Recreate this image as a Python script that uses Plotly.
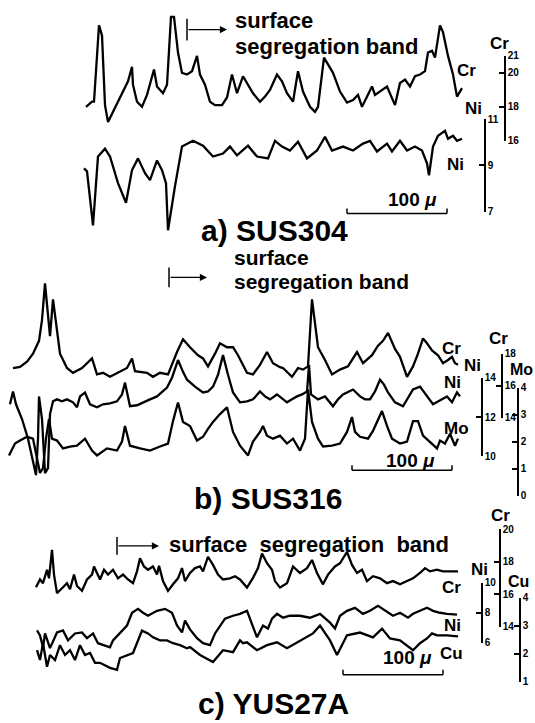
import plotly.graph_objects as go

W, H = 535, 723

# ---------------- data: (position along scan in µm, concentration in wt%) ----------------
SUS304_CR = [(86,18.0),(92,18.3),(94,18.3),(99,22.8),(102,22.2),(105,18.1),(108,17.1),(113,17.7),(120,18.55),(123,19.0),
             (128,19.5),(132,20.35),(133,19.3),(137,18.3),(142,18.0),(147,18.7),(150,19.3),(154,20.2),(157,19.2),(163,18.8),
             (167,19.3),(171,23.3),(174,23.3),(178,21.2),(182,20.0),(187,19.9),(192,20.1),(197,21.0),(200,19.9),(205,19.3),
             (210,18.3),(215,18.1),(222,18.1),(227,18.55),(232,19.9),(237,18.8),(243,19.8),(248,19.3),(253,18.8),(260,18.3),
             (265,18.6),(270,19.0),(277,19.9),(282,19.5),(287,18.8),(293,18.3),(298,20.1),(303,18.9),(310,18.0),(315,17.7),
             (318,18.0),(324,20.9),(328,20.5),(333,20.0),(340,18.9),(347,18.25),(353,18.4),(358,18.7),(362,18.0),(368,18.7),
             (372,19.2),(375,18.7),(380,18.9),(387,19.2),(395,18.1),(400,19.4),(405,19.6),(410,19.2),(415,19.8),(420,19.9),
             (425,20.1),(428,21.2),(432,21.3),(435,20.9),(440,22.8),(443,22.4),(448,21.0),(453,19.9),(457,18.6),(460,18.9),
             (462,19.1)]
SUS304_NI = [(84,8.87),(87,8.74),(93,6.4),(98,9.38),(105,9.72),(110,9.38),(118,8.23),(126,7.38),(132,8.79),(138,9.3),
             (145,8.66),(150,8.36),(157,9.21),(162,8.79),(166,8.23),(168,6.19),(175,8.1),(182,9.81),(193,10.06),(203,9.85),
             (213,9.38),(223,9.51),(230,9.81),(237,9.43),(248,9.85),(257,9.38),(268,9.3),(275,10.06),(282,9.81),(290,9.64),
             (298,10.02),(307,9.3),(317,9.64),(320,9.85),(325,10.23),(332,9.64),(343,9.81),(353,9.64),(363,9.94),(370,10.06),
             (377,9.6),(387,9.94),(392,9.6),(400,10.06),(407,9.64),(415,9.81),(422,9.64),(427,9.09),(429,8.57),(433,9.81),
             (438,10.28),(445,10.49),(448,10.15),(453,10.28),(457,10.06),(462,10.15)]

SUS316_CR = [(13,17.1),(20,17.17),(27,17.5),(33,18.0),(39,18.8),(42,20.1),(45,22.4),(50,19.1),(53,21.4),(57,19.6),
             (60,18.0),(67,17.1),(73,16.8),(82,17.1),(92,17.7),(97,16.7),(103,16.8),(110,16.55),(120,16.9),(127,17.1),
             (132,17.7),(135,16.9),(147,16.8),(153,16.55),(160,16.8),(168,16.7),(177,18.1),(183,18.9),(190,18.4),(198,17.9),
             (203,17.7),(208,17.2),(215,18.0),(220,18.65),(227,18.4),(233,18.4),(238,17.9),(247,16.8),(253,16.7),(260,17.3),
             (267,18.1),(273,17.4),(280,17.15),(283,17.1),(292,16.55),(298,17.1),(303,17.0),(308,17.2),(312,21.4),(315,19.75),
             (318,18.4),(325,17.6),(332,16.7),(340,17.0),(348,17.2),(357,18.1),(363,17.4),(372,17.9),(378,18.5),(383,18.8),
             (388,19.3),(395,18.3),(400,17.8),(407,16.55),(413,17.2),(418,18.0),(423,18.95),(427,18.65),(432,18.2),(438,17.9),
             (443,17.4),(448,17.6),(452,17.8),(455,17.4),(458,17.3)]
SUS316_NI = [(10,12.65),(13,13.3),(16,12.65),(22,11.9),(28,10.9),(33,9.8),(36,9.05),(38,10.9),(39,13.05),(42,11.9),
             (45,9.15),(48,9.4),(50,12.15),(53,12.8),(57,12.9),(62,12.8),(67,12.9),(73,12.75),(77,12.5),(80,13.05),
             (85,13.25),(90,12.65),(97,12.5),(103,12.65),(110,12.7),(117,12.8),(122,13.15),(125,13.75),(130,12.55),(137,12.6),
             (143,12.75),(150,12.9),(157,13.05),(163,13.3),(167,13.5),(172,14.0),(178,14.9),(183,14.3),(187,13.9),(195,13.55),
             (203,13.25),(208,13.3),(213,13.55),(218,14.15),(223,15.15),(228,14.15),(233,13.25),(240,12.75),(247,12.8),(253,12.9),
             (260,13.3),(265,13.05),(270,12.9),(277,13.15),(283,12.9),(287,12.75),(292,12.9),(297,13.05),(302,13.15),(307,13.3),
             (309,14.65),(311,13.15),(318,12.9),(325,13.05),(333,12.55),(338,12.9),(343,13.15),(353,13.4),(360,13.05),(365,12.9),
             (370,12.9),(375,13.3),(380,13.9),(384,13.65),(388,13.25),(395,12.75),(403,12.55),(408,13.0),(413,13.4),(420,13.55),
             (427,13.05),(433,12.65),(442,12.9),(447,13.05),(452,12.75),(457,13.25),(460,13.05)]
SUS316_MO = [(9,1.49),(15,1.93),(20,2.04),(27,2.18),(33,2.11),(37,1.38),(40,0.84),(43,1.02),(46,2.11),(49,2.84),
             (52,2.11),(57,2.04),(63,1.75),(70,1.82),(77,1.85),(85,2.11),(92,1.67),(97,1.49),(107,1.75),(117,1.67),
             (122,2.0),(125,2.58),(130,1.85),(140,1.75),(150,1.67),(160,1.82),(168,1.93),(173,2.76),(178,3.45),(183,2.73),
             (190,2.58),(197,2.04),(203,2.18),(208,2.47),(213,2.73),(220,3.02),(227,3.27),(233,2.36),(240,1.85),(248,1.49),
             (253,2.0),(260,2.36),(263,2.58),(267,2.22),(273,2.11),(280,2.22),(287,1.93),(293,2.11),(300,1.67),(305,2.11),
             (308,3.93),(312,2.73),(318,2.11),(323,1.82),(332,1.85),(340,1.93),(347,2.36),(352,2.91),(355,2.36),(360,2.18),
             (368,2.11),(373,2.4),(382,3.13),(387,2.58),(392,2.11),(400,1.93),(407,2.0),(413,2.76),(418,2.76),(423,2.22),
             (430,2.0),(437,1.75),(440,2.04),(445,1.93),(450,2.29),(455,1.85),(458,2.11)]

YUS27A_CR = [(36,16.42),(40,16.9),(43,16.67),(47,17.5),(49,16.97),(52,18.73),(54,17.2),(57,16.06),(62,16.36),(67,16.67),
             (70,16.3),(74,17.2),(77,16.5),(82,16.2),(87,16.9),(92,17.2),(94,17.7),(100,16.9),(104,17.5),(108,17.2),
             (113,17.5),(118,16.97),(123,17.2),(128,16.9),(133,16.67),(137,17.4),(140,18.2),(144,17.7),(148,17.5),(153,17.7),
             (157,17.2),(159,17.75),(163,16.8),(168,16.2),(173,16.6),(178,16.97),(182,17.6),(185,16.8),(190,17.3),(195,17.6),
             (200,17.7),(203,17.4),(208,18.3),(213,17.8),(218,17.2),(223,16.9),(230,16.97),(235,17.1),(240,16.9),(247,16.4),
             (253,17.0),(258,17.6),(262,18.5),(267,17.9),(272,17.5),(275,16.8),(280,16.4),(287,16.67),(293,17.7),(300,17.3),
             (307,17.6),(312,18.1),(317,17.3),(323,16.6),(328,17.2),(335,17.7),(340,17.9),(347,18.6),(352,17.8),(357,17.3),
             (362,17.5),(367,16.8),(373,17.1),(380,16.97),(387,16.67),(393,16.8),(400,16.6),(407,16.8),(413,16.97),(420,17.3),
             (425,17.6),(430,17.4),(437,17.5),(443,17.4),(450,17.4),(458,17.4)]
YUS27A_NI = [(37,6.82),(40,6.49),(43,5.7),(45,6.62),(50,5.64),(57,6.69),(63,6.82),(68,6.16),(75,6.62),(82,6.69),
             (87,6.3),(93,6.62),(98,5.97),(103,5.84),(110,5.7),(113,6.16),(120,6.69),(127,7.15),(132,8.0),(138,8.26),
             (143,8.0),(148,7.8),(157,8.13),(165,8.26),(172,8.0),(177,7.15),(182,6.69),(185,7.48),(190,6.89),(197,6.3),
             (203,5.97),(210,5.84),(215,6.62),(220,7.15),(225,7.61),(233,7.8),(240,7.93),(247,8.13),(252,7.28),(257,6.36),
             (263,7.15),(268,6.95),(272,7.61),(277,7.93),(283,7.67),(290,7.8),(300,7.8),(310,7.67),(320,7.93),(330,7.34),
             (335,6.95),(340,7.8),(347,8.13),(355,8.33),(363,7.93),(370,8.13),(378,8.46),(385,8.13),(393,7.8),(400,8.0),
             (408,7.67),(413,7.93),(420,8.13),(427,8.33),(433,8.13),(440,8.0),(447,7.93),(457,7.87)]
YUS27A_CU = [(37,2.12),(40,1.77),(43,2.37),(47,1.53),(50,1.95),(55,1.77),(60,2.3),(65,1.95),(70,2.12),(75,1.77),
             (80,2.3),(85,1.95),(90,2.02),(95,1.67),(100,1.67),(110,1.49),(117,1.42),(120,1.84),(133,2.02),(142,2.82),
             (148,2.72),(153,2.58),(160,2.47),(167,2.47),(173,2.37),(180,2.3),(187,2.19),(190,2.23),(200,1.95),(213,1.7),
             (223,2.12),(233,2.05),(240,2.47),(243,2.37),(247,2.4),(253,2.23),(257,2.12),(267,2.3),(277,2.4),(287,2.19),
             (300,2.47),(313,2.72),(320,3.0),(330,2.47),(337,1.95),(347,2.65),(360,2.75),(373,2.58),(382,2.89),(390,2.54),
             (400,2.47),(413,2.12),(420,2.37),(427,2.54),(432,2.72),(437,2.65),(447,2.65),(458,2.61)]

SCALE_TICKS = {
    "a_cr": [16, 18, 20, 21], "a_ni": [7, 9, 11],
    "b_cr": [14, 16, 18], "b_ni": [10, 12, 14], "b_mo": [0, 1, 2, 3, 4],
    "c_cr": [14, 16, 18, 20], "c_ni": [6, 8, 10], "c_cu": [1, 2, 3, 4],
}
SCALE_BAR_UM = 100

# ---------------- layout calibration (pixel placement of each trace's scale) ----------------
# axis id: (reference value, pixel row of that value, pixels per wt%)
CAL = {
    "y":  (20, 68, 17.25),
    "y2": (9, 162, 23.5),
    "y3": (16, 386, 16.25),
    "y4": (12, 418, 20.0),
    "y5": (2, 443, 27.5),
    "y6": (18, 565, 16.5),
    "y7": (8, 617, 15.25),
    "y8": (3, 630, 28.5),
}
FONT = "Liberation Sans"


def px_of(ax, v):
    vr, yr, s = CAL[ax]
    return yr - (v - vr) * s


def full_range(ax):
    vr, yr, s = CAL[ax]
    return [vr - (H - yr) / s, vr + yr / s]


fig = go.Figure()

series = [(SUS304_CR, "y"), (SUS304_NI, "y2"), (SUS316_CR, "y3"), (SUS316_NI, "y4"),
          (SUS316_MO, "y5"), (YUS27A_CR, "y6"), (YUS27A_NI, "y7"), (YUS27A_CU, "y8")]
for data, ax in series:
    pos, wt = zip(*data)
    fig.add_trace(go.Scatter(x=list(pos), y=list(wt), mode="lines", yaxis=ax,
                             line=dict(color="black", width=2.3), hoverinfo="skip", showlegend=False))

layout = dict(
    width=W, height=H, margin=dict(l=0, r=0, t=0, b=0),
    paper_bgcolor="white", plot_bgcolor="rgba(0,0,0,0)", showlegend=False,
    xaxis=dict(range=[0, W], domain=[0, 1], visible=False, fixedrange=True),
)
for ax in CAL:
    key = "yaxis" if ax == "y" else "yaxis" + ax[1:]
    d = dict(range=full_range(ax), visible=False, fixedrange=True)
    if ax != "y":
        d.update(overlaying="y")
    else:
        d.update(domain=[0, 1])
    layout[key] = d

# visible concentration scales (bracket axes on the right)
scales = [("a_cr", "y", 505), ("a_ni", "y2", 485), ("b_cr", "y3", 502), ("b_ni", "y4", 482),
          ("b_mo", "y5", 518), ("c_cr", "y6", 500), ("c_ni", "y7", 482), ("c_cu", "y8", 520)]
for k, (name, cal_ax, xpx) in enumerate(scales):
    n = 9 + k
    ticks = SCALE_TICKS[name]
    lo, hi = min(ticks), max(ticks)
    dom = [1 - px_of(cal_ax, lo) / H, 1 - px_of(cal_ax, hi) / H]
    layout["yaxis%d" % n] = dict(
        domain=dom, range=[lo, hi], anchor="free", position=xpx / W, side="right",
        showline=True, linecolor="black", linewidth=1.5, ticks="inside", ticklen=5,
        tickwidth=1.5, tickcolor="black", tickvals=ticks, showgrid=False, zeroline=False,
        tickfont=dict(family=FONT, size=10, color="black", weight="bold"), fixedrange=True,
    )
    fig.add_trace(go.Scatter(x=[None], y=[None], yaxis="y%d" % n, mode="lines",
                             hoverinfo="skip", showlegend=False))

fig.update_layout(**layout)


def label(text, xpx, ypx, size=17, xanchor="center", bold=True):
    fig.add_annotation(text=text, x=xpx / W, y=1 - ypx / H, xref="paper", yref="paper",
                       xanchor=xanchor, yanchor="middle", showarrow=False,
                       font=dict(family=FONT, size=size, color="black",
                                 weight="bold" if bold else "normal"))


def seg_arrow(x0, x1, ypx, half):
    fig.add_shape(type="line", xref="x", yref="paper", x0=x0, x1=x0,
                  y0=1 - (ypx - half) / H, y1=1 - (ypx + half) / H, line=dict(color="black", width=1.5))
    fig.add_annotation(x=x1, y=1 - ypx / H, xref="x", yref="paper", ax=x0, ay=0, axref="x",
                       ayref="pixel", showarrow=True, arrowhead=2, arrowsize=1.1, arrowwidth=1.3,
                       arrowcolor="black", text="")


def scale_bar(x0, ypx):
    x1 = x0 + SCALE_BAR_UM
    fig.add_shape(type="line", xref="x", yref="paper", x0=x0, x1=x1, y0=1 - ypx / H, y1=1 - ypx / H,
                  line=dict(color="black", width=1.5))
    for xx in (x0, x1):
        fig.add_shape(type="line", xref="x", yref="paper", x0=xx, x1=xx, y0=1 - ypx / H,
                      y1=1 - (ypx - 5) / H, line=dict(color="black", width=1.5))


# panel a
seg_arrow(187, 227, 24, 11)
label("surface", 233, 15, 22, "left")
label("segregation band", 233, 41, 22, "left")
label("Cr", 466, 66)
label("Cr", 499, 38)
label("Ni", 473, 104)
label("Ni", 455, 161)
label("100 <i>μ</i>", 412, 197, 19)
scale_bar(347, 211)
label("a) SUS304", 275, 228, 30)

# panel b
seg_arrow(169, 207, 276, 10)
label("surface", 232, 256, 21, "left")
label("segregation band", 232, 280, 21, "left")
label("Cr", 451, 348)
label("Ni", 452, 383)
label("Mo", 456, 430)
label("Cr", 498, 338)
label("Ni", 472, 366)
label("Mo", 535, 370, 16, "right")
label("100 <i>μ</i>", 410, 462, 19)
scale_bar(352, 472)
label("b) SUS316", 268, 501, 30)

# panel c
seg_arrow(117, 159, 549, 9)
label("surface  segregation  band", 167, 548, 22, "left")
label("Cr", 451, 591)
label("Ni", 452, 630)
label("Cu", 451, 658)
label("Cr", 500, 518)
label("Ni", 479, 573)
label("Cu", 518, 585, 16)
label("100 <i>μ</i>", 407, 663, 19)
scale_bar(343, 680)
label("c) YUS27A", 273, 709, 30)

fig.write_html("out.html")
